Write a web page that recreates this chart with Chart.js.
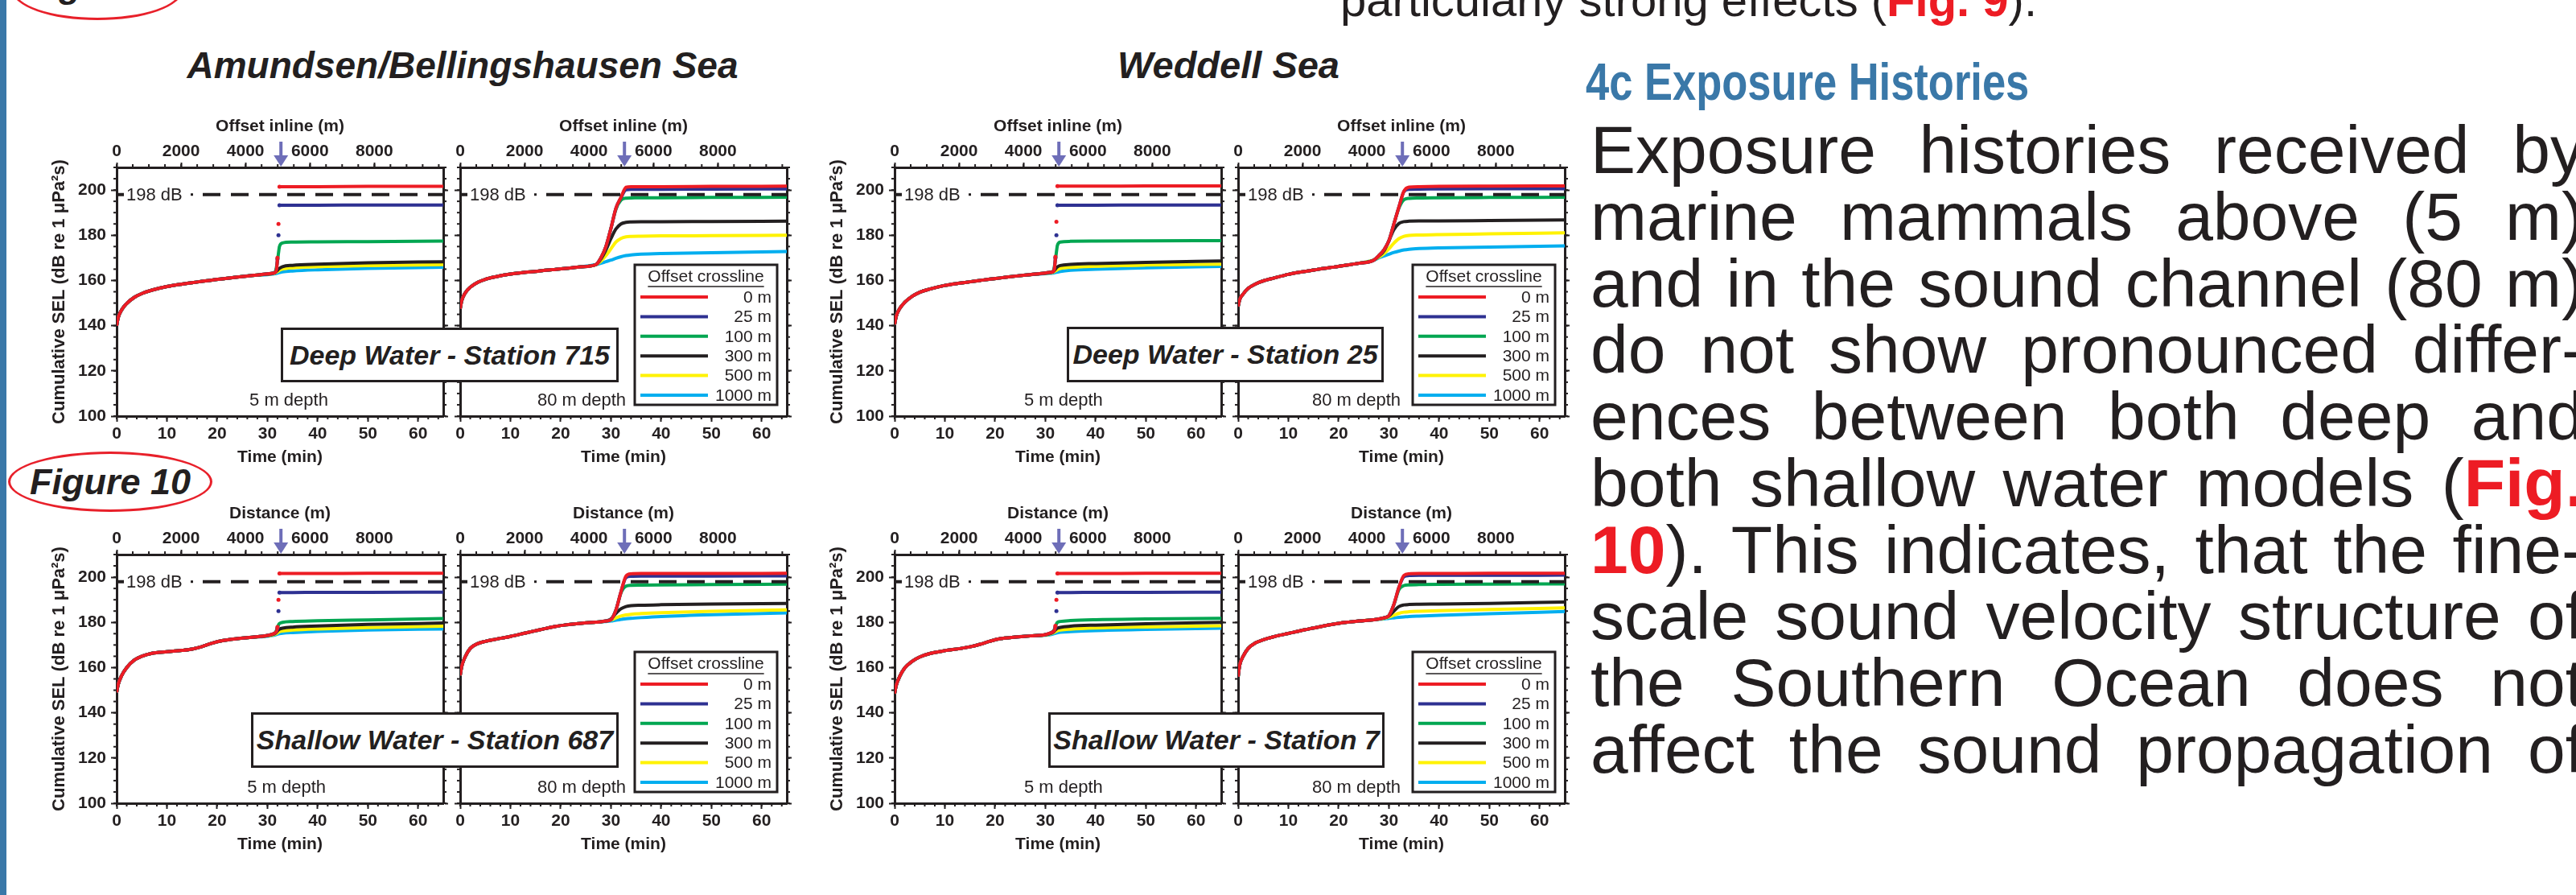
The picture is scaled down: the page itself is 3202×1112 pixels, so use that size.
<!DOCTYPE html>
<html>
<head>
<meta charset="utf-8">
<script src="https://cdn.jsdelivr.net/npm/chart.js@4.4.1/dist/chart.umd.min.js"></script>
<style>
  html, body { margin: 0; padding: 0; background: #fff; }
  body { position: relative; width: 3202px; height: 1112px; overflow: hidden;
         font-family: "Liberation Sans", Arial, sans-serif; color: #231f20; }
  .bar { position: absolute; left: 0; top: 0; width: 8px; height: 1112px; background: #3a78a8; }
  .sea { position: absolute; font-weight: bold; font-style: italic; line-height: 1;
         white-space: nowrap; transform: translateX(-50%); }
  .station { position: absolute; z-index: 5; box-sizing: border-box; border: 3px solid #231f20;
             background: #fff; display: flex; align-items: center; justify-content: center;
             font-weight: bold; font-style: italic; font-size: 34px; white-space: nowrap; }
  .fig { position: absolute; box-sizing: border-box; border: 3px solid #e8202a; border-radius: 50%;
         display: flex; align-items: center; justify-content: center;
         font-weight: bold; font-style: italic; font-size: 45px; }
  .head { position: absolute; left: 1971px; top: 70px; font-size: 64px; line-height: 1;
          font-weight: bold; color: #3a78a8; white-space: nowrap;
          transform: scaleX(0.82); transform-origin: 0 0; }
  .line { position: absolute; left: 1977px; width: 1235px; font-size: 84px; line-height: 1;
          text-align: justify; text-align-last: justify; white-space: nowrap; }
  .prev { position: absolute; left: 1666px; top: -29px; font-size: 58px; line-height: 1; white-space: nowrap; }
  .red { color: #ed1c24; font-weight: bold; }
</style>
</head>
<body>
<div class="bar"></div>
<div class="prev">particularly strong effects (<span class="red">Fig. 9</span>).</div>
<div class="fig" style="left:15px;top:-50px;width:212px;height:75px;align-items:flex-end;padding-bottom:14px">Figure 9</div>
<div class="fig" style="left:10px;top:561px;width:254px;height:75px">Figure 10</div>

<div class="sea" style="left:575px;top:58px;font-size:46px">Amundsen/Bellingshausen Sea</div>
<div class="sea" style="left:1527px;top:57px;font-size:47px">Weddell Sea</div>

<div class="station" style="left:349px;top:407px;width:420px;height:68px">Deep Water - Station 715</div>
<div class="station" style="left:1326px;top:406px;width:394px;height:69px">Deep Water - Station 25</div>
<div class="station" style="left:312px;top:885px;width:457px;height:69px">Shallow Water - Station 687</div>
<div class="station" style="left:1303px;top:885px;width:418px;height:69px">Shallow Water - Station 7</div>

<div class="head">4c Exposure Histories</div>
<div class="line" style="top:144px">Exposure histories received by</div>
<div class="line" style="top:227px">marine mammals above (5 m)</div>
<div class="line" style="top:310px">and in the sound channel (80 m)</div>
<div class="line" style="top:392px">do not show pronounced differ-</div>
<div class="line" style="top:475px">ences between both deep and</div>
<div class="line" style="top:558px">both shallow water models (<span class="red">Fig.</span></div>
<div class="line" style="top:641px"><span class="red">10</span>). This indicates, that the fine-</div>
<div class="line" style="top:723px">scale sound velocity structure of</div>
<div class="line" style="top:806px">the Southern Ocean does not</div>
<div class="line" style="top:889px">affect the sound propagation of</div>

<script>
// axes
const timeTicks = [0, 10, 20, 30, 40, 50, 60];
const distanceTicks = [0, 2000, 4000, 6000, 8000];
const selTicks = [100, 120, 140, 160, 180, 200];
const timeMax = 65;
const selMin = 100;
const selMax = 210;
const shipSpeed = 156; // m per minute, ties the top axis to time
const thresholdDb = 198;
const arrowDistance = 5100;
const crosslineLabels = ['0 m', '25 m', '100 m', '300 m', '500 m', '1000 m'];

// all six offsets run on top of each other until the ship gets close
const earlyTime = [0, 0.3, 1, 2, 3.5, 5, 7, 10, 13, 15, 17, 19, 21, 24, 27];
const branchTime5m = [30, 31, 31.6, 32, 32.2, 32.4, 33, 35, 40, 50, 65];
const branchTime80m = [28, 29, 30, 31, 32, 33, 34, 36, 40, 50, 65];

// Amundsen/Bellingshausen Sea, deep water, station 715
const ab715_5m_early = [140, 143.5, 147, 149.8, 152.5, 154.2, 155.7, 157.3, 158.4, 159, 159.6, 160.2, 160.7, 161.5, 162.2];
const ab715_5m = [
  [162.9, 163.2, 163.6, 170, 185, 201.5, 201.5, 201.5, 201.5, 201.6, 201.6],
  [162.9, 163.2, 163.6, 169.5, 180, 193.3, 193.3, 193.3, 193.3, 193.4, 193.4],
  [162.9, 163.2, 164, 168.5, 172, 175, 176.6, 177, 177.1, 177.2, 177.4],
  [162.8, 163.1, 163.7, 164.5, 165, 165.4, 166.1, 166.7, 167.2, 167.8, 168.3],
  [162.8, 163, 163.4, 163.9, 164.2, 164.5, 165, 165.6, 166.1, 166.6, 167],
  [162.6, 162.8, 163, 163.2, 163.4, 163.5, 163.8, 164.2, 164.7, 165.3, 165.9]
];
const ab715_80m_early = [147.5, 151, 154.5, 157, 159.2, 160.5, 161.6, 162.8, 163.6, 164, 164.5, 164.9, 165.3, 166, 167];
const ab715_80m = [
  [170, 175, 183, 192, 196.8, 201.2, 201.5, 201.5, 201.5, 201.6, 201.7],
  [170, 175, 183, 192, 196.6, 200.1, 200.3, 200.3, 200.3, 200.4, 200.5],
  [170, 175, 183, 191.5, 195.5, 196.4, 196.5, 196.6, 196.6, 196.7, 196.8],
  [169.5, 173.5, 178.5, 182.8, 185, 185.7, 185.9, 186, 186, 186.1, 186.2],
  [168.5, 171, 174, 177, 178.6, 179.3, 179.5, 179.6, 179.7, 179.8, 180],
  [167.6, 168.3, 169, 169.8, 170.5, 171, 171.3, 171.6, 171.9, 172.3, 172.8]
];

// Weddell Sea, deep water, station 25
const wd25_5m_early = [140.5, 144, 147.5, 150.3, 153, 154.8, 156.2, 157.8, 158.8, 159.4, 160, 160.6, 161.1, 161.9, 162.6];
const wd25_5m = [
  [163.3, 163.6, 164, 170.5, 186, 201.7, 201.7, 201.7, 201.7, 201.8, 201.8],
  [163.3, 163.6, 164, 170, 180, 193.3, 193.3, 193.3, 193.3, 193.4, 193.4],
  [163.3, 163.6, 164.3, 169, 172.5, 175.5, 177, 177.3, 177.4, 177.5, 177.6],
  [163.2, 163.5, 164, 165, 165.6, 166, 166.6, 167.1, 167.5, 168, 168.6],
  [163.2, 163.4, 163.7, 164.2, 164.5, 164.8, 165.3, 165.8, 166.3, 166.8, 167.2],
  [163, 163.2, 163.3, 163.5, 163.6, 163.7, 164, 164.5, 165, 165.6, 166.2]
];
const wd25_80m_early = [148.5, 151.5, 154, 156.5, 158.5, 159.8, 161, 162.7, 163.9, 164.6, 165.3, 165.9, 166.6, 167.6, 169];
const wd25_80m = [
  [171, 173.5, 177.5, 185, 192.5, 199.5, 201.3, 201.5, 201.6, 201.7, 201.8],
  [171, 173.5, 177.5, 185, 192.5, 199.3, 200.3, 200.4, 200.5, 200.6, 200.6],
  [171, 173.5, 177.5, 185, 192, 195.7, 196.3, 196.5, 196.6, 196.7, 196.8],
  [170.8, 173, 177.5, 182.5, 185.2, 186, 186.2, 186.3, 186.3, 186.5, 186.8],
  [170.3, 171.8, 174, 176.5, 178.5, 179.5, 179.9, 180.1, 180.3, 180.6, 181.1],
  [170, 170.8, 171.6, 172.4, 173, 173.5, 173.8, 174.1, 174.4, 174.8, 175.3]
];

// Amundsen/Bellingshausen Sea, shallow water, station 687
const ab687_5m_early = [149, 152.5, 156.5, 160, 163.3, 165, 166.3, 167, 167.6, 168.2, 169.3, 170.8, 171.9, 172.8, 173.4];
const ab687_5m = [
  [174.2, 174.8, 175.5, 178, 190, 201.6, 201.6, 201.6, 201.6, 201.7, 201.7],
  [174.2, 174.8, 175.5, 177.5, 185, 193.2, 193.2, 193.2, 193.3, 193.3, 193.4],
  [174.2, 174.8, 175.6, 177.5, 178.8, 179.5, 180, 180.4, 180.7, 181.1, 181.7],
  [174.1, 174.6, 175.2, 176.2, 176.7, 177, 177.4, 177.9, 178.4, 179.1, 179.7],
  [174, 174.4, 174.9, 175.4, 175.7, 175.9, 176.2, 176.6, 177.1, 177.7, 178.3],
  [173.9, 174.2, 174.5, 174.8, 174.9, 175, 175.2, 175.5, 176, 176.6, 177.1]
];
const ab687_80m_early = [156.5, 160.5, 164.8, 168.5, 170.6, 171.6, 172.5, 173.8, 175.3, 176.3, 177.3, 178.2, 178.9, 179.6, 180.1];
const ab687_80m = [
  [180.3, 180.6, 181.2, 185.5, 193.5, 200.5, 201.5, 201.6, 201.6, 201.6, 201.7],
  [180.3, 180.6, 181.2, 185.5, 193.5, 199.8, 200.4, 200.5, 200.5, 200.5, 200.6],
  [180.3, 180.6, 181.2, 185.5, 193, 196, 196.4, 196.5, 196.6, 196.7, 196.9],
  [180.3, 180.6, 181.5, 184, 186, 187, 187.4, 187.6, 187.8, 188.1, 188.4],
  [180.3, 180.5, 181, 182, 182.8, 183.3, 183.6, 183.9, 184.3, 184.9, 185.5],
  [180.2, 180.4, 180.6, 181, 181.3, 181.6, 181.8, 182.1, 182.6, 183.4, 184.2]
];

// Weddell Sea, shallow water, station 7
const wd7_5m_early = [148.5, 152, 156, 159.8, 162.8, 164.7, 166.2, 167.5, 168.4, 169.2, 170.3, 171.7, 172.8, 173.5, 174];
const wd7_5m = [
  [174.6, 175.3, 176, 178.5, 190, 201.6, 201.6, 201.6, 201.6, 201.7, 201.7],
  [174.6, 175.3, 176, 178, 185, 193.2, 193.2, 193.2, 193.3, 193.3, 193.4],
  [174.6, 175.3, 176.2, 178, 179.3, 180, 180.4, 180.8, 181.2, 181.5, 181.8],
  [174.5, 175.1, 175.8, 176.7, 177.1, 177.4, 177.8, 178.3, 178.8, 179.4, 180],
  [174.4, 174.9, 175.4, 175.9, 176.1, 176.3, 176.6, 177, 177.5, 178, 178.5],
  [174.3, 174.6, 174.9, 175.2, 175.3, 175.4, 175.6, 175.9, 176.4, 176.9, 177.4]
];
const wd7_80m_early = [156, 161, 165, 168.5, 171, 172.3, 173.6, 175.1, 176.6, 177.5, 178.4, 179.2, 179.9, 180.6, 181.2];
const wd7_80m = [
  [181.5, 182, 183, 188, 195.5, 200.8, 201.5, 201.6, 201.6, 201.7, 201.7],
  [181.5, 182, 183, 188, 195.5, 200.2, 200.7, 200.8, 200.8, 200.8, 200.9],
  [181.5, 182, 183, 187.8, 194.5, 196.3, 196.6, 196.7, 196.8, 196.9, 197],
  [181.5, 182, 182.8, 185, 187, 187.7, 187.9, 188, 188.1, 188.4, 189],
  [181.4, 181.8, 182.4, 183.2, 184, 184.5, 184.7, 184.9, 185.2, 185.7, 186.4],
  [181.3, 181.5, 181.8, 182, 182.2, 182.4, 182.6, 182.8, 183.1, 183.8, 184.8]
];

const lineColors = ['#ed1c24', '#2e3192', '#00a651', '#231f20', '#fff200', '#00aeef'];
const ink = '#231f20';
const fontFamily = '"Liberation Sans", Arial, sans-serif';

Chart.defaults.font.family = fontFamily;
Chart.defaults.color = ink;

const panels = [
  { left: 59,   top: 143, early: ab715_5m_early,  branch: ab715_5m,  times: branchTime5m,  axis: true,  topTitle: 'Offset inline (m)', depth: '5 m depth',  depthAt: 0.527 },
  { left: 560,  top: 143, early: ab715_80m_early, branch: ab715_80m, times: branchTime80m, axis: false, topTitle: 'Offset inline (m)', depth: '80 m depth', depthAt: 0.372, legend: true },
  { left: 1026, top: 143, early: wd25_5m_early,   branch: wd25_5m,   times: branchTime5m,  axis: true,  topTitle: 'Offset inline (m)', depth: '5 m depth',  depthAt: 0.517 },
  { left: 1527, top: 143, early: wd25_80m_early,  branch: wd25_80m,  times: branchTime80m, axis: false, topTitle: 'Offset inline (m)', depth: '80 m depth', depthAt: 0.362, legend: true },
  { left: 59,   top: 624, early: ab687_5m_early,  branch: ab687_5m,  times: branchTime5m,  axis: true,  topTitle: 'Distance (m)', depth: '5 m depth',  depthAt: 0.52 },
  { left: 560,  top: 624, early: ab687_80m_early, branch: ab687_80m, times: branchTime80m, axis: false, topTitle: 'Distance (m)', depth: '80 m depth', depthAt: 0.372, legend: true },
  { left: 1026, top: 624, early: wd7_5m_early,    branch: wd7_5m,    times: branchTime5m,  axis: true,  topTitle: 'Distance (m)', depth: '5 m depth',  depthAt: 0.517 },
  { left: 1527, top: 624, early: wd7_80m_early,   branch: wd7_80m,   times: branchTime80m, axis: false, topTitle: 'Distance (m)', depth: '80 m depth', depthAt: 0.362, legend: true }
];

// steep jumps (the ship passing right over) show up as loose dots, not a line
const jumpSlope = 30;
const isSteep = (a, b) => a && b && (b.y - a.y) / (b.x - a.x) > jumpSlope;

const minorTicks = {
  id: 'minorTicks',
  afterDraw(chart, args, opts) {
    const ctx = chart.ctx;
    ctx.save();
    ctx.strokeStyle = ink;
    ctx.lineWidth = 2;
    Object.entries(opts.steps).forEach(([id, step]) => {
      const s = chart.scales[id];
      for (let v = s.min; v <= s.max + 1e-6; v += step) {
        const p = s.getPixelForValue(v);
        ctx.beginPath();
        if (s.position === 'bottom') { ctx.moveTo(p, s.top); ctx.lineTo(p, s.top + opts.length); }
        else if (s.position === 'top') { ctx.moveTo(p, s.bottom); ctx.lineTo(p, s.bottom - opts.length); }
        else if (s.position === 'left') { ctx.moveTo(s.right, p); ctx.lineTo(s.right - opts.length, p); }
        else { ctx.moveTo(s.left, p); ctx.lineTo(s.left + opts.length, p); }
        ctx.stroke();
      }
    });
    ctx.restore();
  }
};

const thresholdLabel = {
  id: 'thresholdLabel',
  afterDatasetsDraw(chart) {
    const { ctx, chartArea: a, scales: { y } } = chart;
    const py = y.getPixelForValue(thresholdDb);
    ctx.save();
    ctx.fillStyle = '#fff';
    ctx.fillRect(a.left + 9, py - 13, 96, 26);
    ctx.fillStyle = ink;
    ctx.font = '22px ' + fontFamily;
    ctx.textBaseline = 'middle';
    ctx.fillText(thresholdDb + ' dB', a.left + 12, py + 1);
    ctx.fillRect(a.left + 92, py - 1.5, 3, 3);
    ctx.restore();
  }
};

const passArrow = {
  id: 'passArrow',
  afterDraw(chart) {
    const { ctx, chartArea: a } = chart;
    const px = chart.scales.xTop.getPixelForValue(arrowDistance);
    ctx.save();
    ctx.fillStyle = '#6e6eb8';
    ctx.fillRect(px - 2, a.top - 32, 4, 20);
    ctx.beginPath();
    ctx.moveTo(px - 9, a.top - 15);
    ctx.lineTo(px + 9, a.top - 15);
    ctx.lineTo(px, a.top - 1);
    ctx.closePath();
    ctx.fill();
    ctx.restore();
  }
};

const depthNote = {
  id: 'depthNote',
  afterDatasetsDraw(chart, args, opts) {
    const { ctx, chartArea: a } = chart;
    ctx.save();
    ctx.fillStyle = ink;
    ctx.font = '22px ' + fontFamily;
    ctx.textAlign = 'center';
    ctx.textBaseline = 'middle';
    ctx.fillText(opts.text, a.left + opts.at * (a.right - a.left), a.bottom - 19);
    ctx.restore();
  }
};

const insetLegend = {
  id: 'insetLegend',
  afterDraw(chart, args, opts) {
    if (!opts.show) return;
    const { ctx, chartArea: a } = chart;
    const w = 177, h = 174;
    const x0 = a.right - 12 - w, y0 = a.bottom - 14 - h;
    ctx.save();
    ctx.fillStyle = '#fff';
    ctx.fillRect(x0, y0, w, h);
    ctx.strokeStyle = ink;
    ctx.lineWidth = 3;
    ctx.strokeRect(x0, y0, w, h);
    ctx.fillStyle = ink;
    ctx.font = '21px ' + fontFamily;
    ctx.textAlign = 'center';
    ctx.textBaseline = 'middle';
    const title = 'Offset crossline';
    ctx.fillText(title, x0 + w / 2, y0 + 15);
    const tw = ctx.measureText(title).width;
    ctx.lineWidth = 1.5;
    ctx.beginPath();
    ctx.moveTo(x0 + w / 2 - tw / 2, y0 + 27);
    ctx.lineTo(x0 + w / 2 + tw / 2, y0 + 27);
    ctx.stroke();
    ctx.textAlign = 'right';
    chart.data.datasets.filter(d => d.isSeries).forEach((d, i) => {
      const yy = y0 + 40 + i * 24.4;
      ctx.strokeStyle = d.borderColor;
      ctx.lineWidth = 4;
      ctx.beginPath();
      ctx.moveTo(x0 + 7, yy);
      ctx.lineTo(x0 + 91, yy);
      ctx.stroke();
      ctx.fillText(d.label, x0 + w - 7, yy + 1);
    });
    ctx.restore();
  }
};

const tickFont = { size: 21, weight: 'bold' };
const grid = (len) => ({ drawOnChartArea: false, drawTicks: true, tickLength: len, tickWidth: 2, tickColor: ink });
const border = { display: true, width: 3, color: ink };

function buildChart(p) {
  const leftW = p.axis ? 86 : 12;
  const width = leftW + 406 + 10;
  const height = 65 + 309 + 66;
  const canvas = document.createElement('canvas');
  canvas.width = width;
  canvas.height = height;
  canvas.style.cssText = `position:absolute;left:${p.left}px;top:${p.top}px;width:${width}px;height:${height}px`;
  document.body.appendChild(canvas);

  const series = crosslineLabels.map((label, i) => ({
    label,
    isSeries: true,
    data: earlyTime.map((t, k) => ({ x: t, y: p.early[k] }))
      .concat(p.times.map((t, k) => ({ x: t, y: p.branch[i][k] }))),
    borderColor: lineColors[i],
    borderWidth: 4,
    cubicInterpolationMode: 'monotone',
    pointRadius: ctx => {
      const d = ctx.dataset.data, k = ctx.dataIndex;
      return isSteep(d[k - 1], d[k]) || isSteep(d[k], d[k + 1]) ? 2.5 : 0;
    },
    pointBackgroundColor: lineColors[i],
    pointBorderWidth: 0,
    segment: {
      borderColor: c => (c.p1.parsed.y - c.p0.parsed.y) / (c.p1.parsed.x - c.p0.parsed.x) > jumpSlope ? 'rgba(0,0,0,0)' : undefined
    }
  }));

  const threshold = {
    label: thresholdDb + ' dB',
    data: [{ x: 0, y: thresholdDb }, { x: timeMax, y: thresholdDb }],
    borderColor: ink,
    borderWidth: 4,
    borderDash: [22, 13],
    borderDashOffset: 33,
    pointRadius: 0
  };

  return new Chart(canvas, {
    type: 'line',
    data: { datasets: [threshold, ...series] },
    options: {
      responsive: false,
      devicePixelRatio: 1,
      animation: false,
      layout: { padding: 0 },
      plugins: {
        legend: { display: false },
        tooltip: { enabled: false },
        minorTicks: { steps: { x: 2, xTop: 500, y: 5, yRight: 5 }, length: 4 },
        depthNote: { text: p.depth, at: p.depthAt },
        insetLegend: { show: !!p.legend }
      },
      scales: {
        x: {
          type: 'linear', position: 'bottom', min: 0, max: timeMax,
          afterBuildTicks: s => { s.ticks = timeTicks.map(v => ({ value: v })); },
          afterFit: s => { s.height = 66; },
          ticks: { font: tickFont, padding: 3, maxRotation: 0, autoSkip: false, callback: v => v },
          grid: grid(7), border,
          title: { display: true, text: 'Time (min)', font: tickFont, padding: { top: 0, bottom: 2 } }
        },
        xTop: {
          type: 'linear', position: 'top', min: 0, max: timeMax * shipSpeed,
          afterBuildTicks: s => { s.ticks = distanceTicks.map(v => ({ value: v })); },
          afterFit: s => { s.height = 65; },
          ticks: { font: tickFont, padding: 1, maxRotation: 0, autoSkip: false, callback: v => v },
          grid: grid(6), border,
          title: { display: true, text: p.topTitle, font: tickFont, padding: { top: 2, bottom: 0 } }
        },
        y: {
          type: 'linear', position: 'left', min: selMin, max: selMax,
          afterBuildTicks: s => { s.ticks = selTicks.map(v => ({ value: v })); },
          afterFit: s => { s.width = leftW; },
          ticks: { display: p.axis, font: tickFont, padding: 6, callback: v => v },
          grid: grid(7), border,
          title: { display: p.axis, text: 'Cumulative SEL (dB re 1 \u03bcPa\u00b2s)', font: { size: 22, weight: 'bold' }, padding: { top: 2, bottom: 0 } }
        },
        yRight: {
          type: 'linear', position: 'right', min: selMin, max: selMax,
          afterBuildTicks: s => { s.ticks = selTicks.map(v => ({ value: v })); },
          afterFit: s => { s.width = 10; },
          ticks: { display: false },
          grid: grid(6), border
        }
      }
    },
    plugins: [minorTicks, thresholdLabel, passArrow, depthNote, insetLegend]
  });
}

panels.forEach(buildChart);
</script>
</body>
</html>
